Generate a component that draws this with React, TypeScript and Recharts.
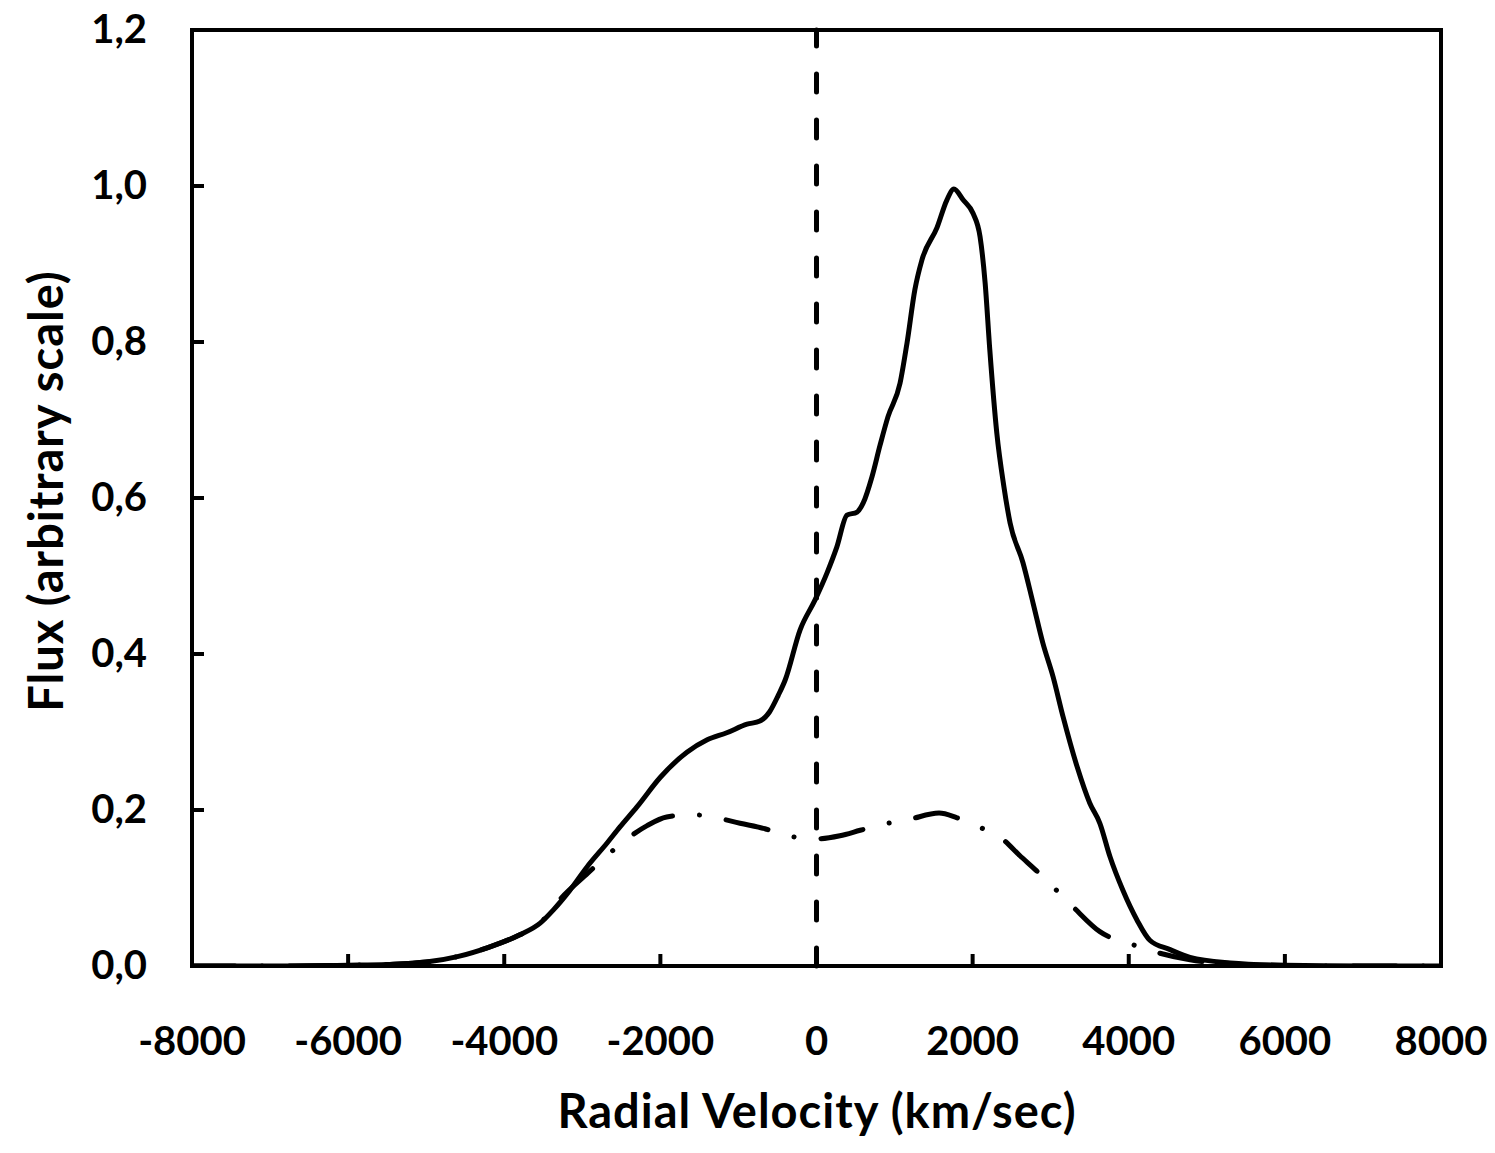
import {
  Label,
  Line,
  LineChart,
  ReferenceArea,
  ReferenceLine,
  XAxis,
  YAxis,
} from 'recharts';

// total line profile (solid)
const totalVelocity = [
  -8000, -7000, -6000, -5500, -5000, -4600, -4200, -3800, -3540, -3370, -3160, -2940, -2680, -2520,
  -2300, -2000, -1660, -1400, -1150, -890, -725, -600, -490, -400, -210, -20, 135, 260, 390, 520,
  600, 710, 815, 915, 1070, 1160, 1260, 1350, 1545, 1670, 1760, 1880, 2005, 2095, 2160, 2220, 2310,
  2400, 2480, 2645, 2775, 2900, 3030, 3160, 3340, 3500, 3630, 3760, 3925, 4105, 4270, 4530, 4785,
  5300, 6000, 7000, 8000,
];
const totalFlux = [
  0, 0, 0.001, 0.002, 0.005, 0.012, 0.024, 0.04, 0.055, 0.072, 0.097, 0.127, 0.158, 0.178, 0.204,
  0.242, 0.274, 0.29, 0.299, 0.31, 0.314, 0.326, 0.347, 0.367, 0.431, 0.469, 0.504, 0.537, 0.578,
  0.582, 0.594, 0.627, 0.668, 0.704, 0.747, 0.799, 0.867, 0.905, 0.947, 0.982, 0.996, 0.982, 0.965,
  0.935, 0.876, 0.79, 0.683, 0.615, 0.568, 0.517, 0.465, 0.414, 0.371, 0.319, 0.255, 0.209, 0.183,
  0.14, 0.097, 0.059, 0.033, 0.021, 0.011, 0.004, 0.001, 0, 0,
];

// broad component (dash-dot)
const compVelocity = [
  -8000, -7000, -6000, -5500, -5000, -4600, -4200, -3800, -3540, -3290, -2930, -2700, -2440, -2170,
  -1920, -1600, -1280, -980, -660, -365, 0, 300, 560, 865, 1185, 1570, 1800, 2090, 2380, 2600,
  2820, 3055, 3285, 3630, 4065, 4375, 4785, 5300, 6000, 7000, 8000,
];
const compFlux = [
  0, 0, 0.001, 0.002, 0.005, 0.012, 0.024, 0.04, 0.055, 0.085, 0.119, 0.14, 0.162, 0.18, 0.191,
  0.194, 0.19, 0.183, 0.176, 0.167, 0.163, 0.167, 0.174, 0.182, 0.188, 0.196, 0.19, 0.178, 0.163,
  0.142, 0.122, 0.099, 0.076, 0.044, 0.027, 0.017, 0.008, 0.003, 0.0005, 0, 0,
];

const xTicks = [-8000, -6000, -4000, -2000, 0, 2000, 4000, 6000, 8000];
const yTicks = [0, 0.2, 0.4, 0.6, 0.8, 1.0, 1.2];

const totalData = totalVelocity.map((v, i) => ({ v, flux: totalFlux[i] }));
const compData = compVelocity.map((v, i) => ({ v, flux: compFlux[i] }));

const FONT = 'Lato, "Open Sans", sans-serif';

const XTick = (props: any) => {
  const { x, y, payload } = props;
  return (
    <g>
      <line x1={x} y1={y} x2={x} y2={y - 12} stroke="#000" strokeWidth={4} />
      <text x={x} y={y + 89} textAnchor="middle" fontFamily={FONT} fontWeight={700} fontSize={40} fill="#000">
        {payload.value}
      </text>
    </g>
  );
};

const YTick = (props: any) => {
  const { x, y, payload } = props;
  return (
    <g>
      <line x1={x} y1={y} x2={x + 12} y2={y} stroke="#000" strokeWidth={4} />
      <text x={147} y={y + 13} textAnchor="end" fontFamily={FONT} fontWeight={700} fontSize={40} fill="#000">
        {Number(payload.value).toFixed(1).replace('.', ',')}
      </text>
    </g>
  );
};

export default function App() {
  return (
    <div style={{ position: 'absolute', left: 0, top: 0, background: '#fff' }}>
      <LineChart width={1495} height={1153} margin={{ top: 30, right: 54, bottom: 0, left: 0 }}>
        <XAxis
          type="number"
          dataKey="v"
          domain={[-8000, 8000]}
          ticks={xTicks}
          height={187}
          tickSize={0}
          tickMargin={0}
          tickLine={false}
          axisLine={{ stroke: '#000', strokeWidth: 4 }}
          tick={<XTick />}
          allowDataOverflow
        >
          <Label
            content={() => (
              <text
                x={817}
                y={1128}
                textAnchor="middle"
                fontFamily={FONT}
                fontWeight={700}
                fontSize={47}
                letterSpacing={1}
                fill="#000"
              >
                Radial Velocity (km/sec)
              </text>
            )}
          />
        </XAxis>
        <YAxis
          type="number"
          domain={[0, 1.2]}
          ticks={yTicks}
          width={192}
          tickSize={0}
          tickMargin={0}
          tickLine={false}
          axisLine={{ stroke: '#000', strokeWidth: 4 }}
          tick={<YTick />}
          allowDataOverflow
        >
          <Label
            content={() => (
              <text
                x={63}
                y={491}
                transform="rotate(-90 63 491)"
                textAnchor="middle"
                fontFamily={FONT}
                fontWeight={700}
                fontSize={47}
                letterSpacing={1}
                fill="#000"
              >
                Flux (arbitrary scale)
              </text>
            )}
          />
        </YAxis>
        <ReferenceArea x1={-8000} x2={8000} y1={0} y2={1.2} fill="none" stroke="#000" strokeWidth={4} />
        <ReferenceLine x={0} stroke="#000" strokeWidth={5} strokeDasharray="18 28" strokeLinecap="round" />
        <Line
          data={compData}
          dataKey="flux"
          type="monotone"
          stroke="#000"
          strokeWidth={5}
          strokeDasharray="43 27 0.1 27"
          strokeLinecap="round"
          dot={false}
          isAnimationActive={false}
        />
        <Line
          data={totalData}
          dataKey="flux"
          type="monotone"
          stroke="#000"
          strokeWidth={5}
          dot={false}
          isAnimationActive={false}
        />
      </LineChart>
    </div>
  );
}
